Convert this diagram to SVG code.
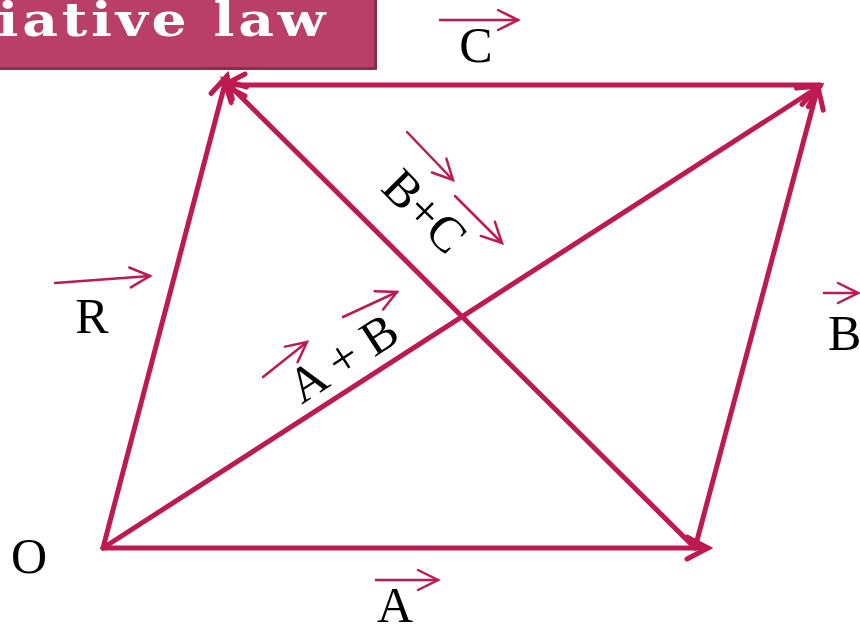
<svg xmlns="http://www.w3.org/2000/svg" width="860" height="626" viewBox="0 0 860 626">
<defs>
<style>
.vec{stroke:#BE1A52;stroke-width:5;fill:none;stroke-linecap:round}
.lab{stroke:#BE1A52;stroke-width:2.5;fill:none;stroke-linecap:round}
.t{font-family:"Liberation Serif","Times New Roman",serif;font-size:50px;fill:#000}
</style>
<marker id="ah" viewBox="-26 -16 32 32" refX="0" refY="0" markerWidth="32" markerHeight="32" markerUnits="userSpaceOnUse" orient="auto">
<path d="M-21,-11 L0,0 L-21,11" fill="none" stroke="#BE1A52" stroke-width="5" stroke-linecap="round" stroke-linejoin="miter"/>
</marker>
<marker id="sh" viewBox="-24 -14 28 28" refX="0" refY="0" markerWidth="28" markerHeight="28" markerUnits="userSpaceOnUse" orient="auto">
<path d="M-20,-10 L0,0 L-20,10" fill="none" stroke="#BE1A52" stroke-width="2.5" stroke-linecap="round"/>
</marker>
</defs>
<rect width="860" height="626" fill="#fff"/>
<g id="title">
<rect x="-10" y="-10" width="387" height="80" fill="#8C2D4F"/>
<rect x="-10" y="-10" width="384" height="77" fill="#B93E68"/>
<text transform="scale(1.2,1)" x="-2" y="36" font-family="DejaVu Serif,serif" font-weight="bold" font-size="46" fill="#fff" textLength="273" lengthAdjust="spacing">iative law</text>
</g>
<g id="connectors">
<line class="vec" x1="103" y1="548" x2="708" y2="548" marker-end="url(#ah)"/>
<line class="vec" x1="695" y1="548" x2="818" y2="87" marker-end="url(#ah)"/>
<line class="vec" x1="820" y1="85" x2="224" y2="85" marker-end="url(#ah)"/>
<line class="vec" x1="103" y1="548" x2="227" y2="76" marker-end="url(#ah)"/>
<line class="vec" x1="103" y1="548" x2="820" y2="86" marker-end="url(#ah)"/>
<line class="vec" x1="695" y1="548" x2="224" y2="80" marker-end="url(#ah)"/>
</g>
<g id="label-C">
<line class="lab" x1="440" y1="20" x2="518" y2="20" marker-end="url(#sh)"/>
<text class="t" x="476" y="62" text-anchor="middle">C</text>
</g>
<g id="label-A">
<line class="lab" x1="376" y1="580" x2="438" y2="580" marker-end="url(#sh)"/>
<text class="t" x="395" y="622" text-anchor="middle">A</text>
</g>
<g id="label-R">
<line class="lab" x1="55" y1="283" x2="150" y2="276" marker-end="url(#sh)"/>
<text class="t" x="92" y="333" text-anchor="middle">R</text>
</g>
<g id="label-B">
<line class="lab" x1="824" y1="293" x2="858" y2="293" marker-end="url(#sh)"/>
<text class="t" x="828" y="350">B</text>
</g>
<g id="label-O">
<text class="t" x="29" y="573" text-anchor="middle">O</text>
</g>
<g id="label-AB">
<line class="lab" x1="263" y1="377" x2="307" y2="342" marker-end="url(#sh)"/>
<line class="lab" x1="343" y1="317" x2="397" y2="292" marker-end="url(#sh)"/>
<text class="t" text-anchor="middle" transform="translate(352,372) rotate(-33)">A + B</text>
</g>
<g id="label-BC">
<line class="lab" x1="407" y1="132" x2="453" y2="180" marker-end="url(#sh)"/>
<line class="lab" x1="455" y1="196" x2="502" y2="243" marker-end="url(#sh)"/>
<text class="t" text-anchor="middle" transform="translate(413,223) rotate(45)">B+C</text>
</g>
</svg>
